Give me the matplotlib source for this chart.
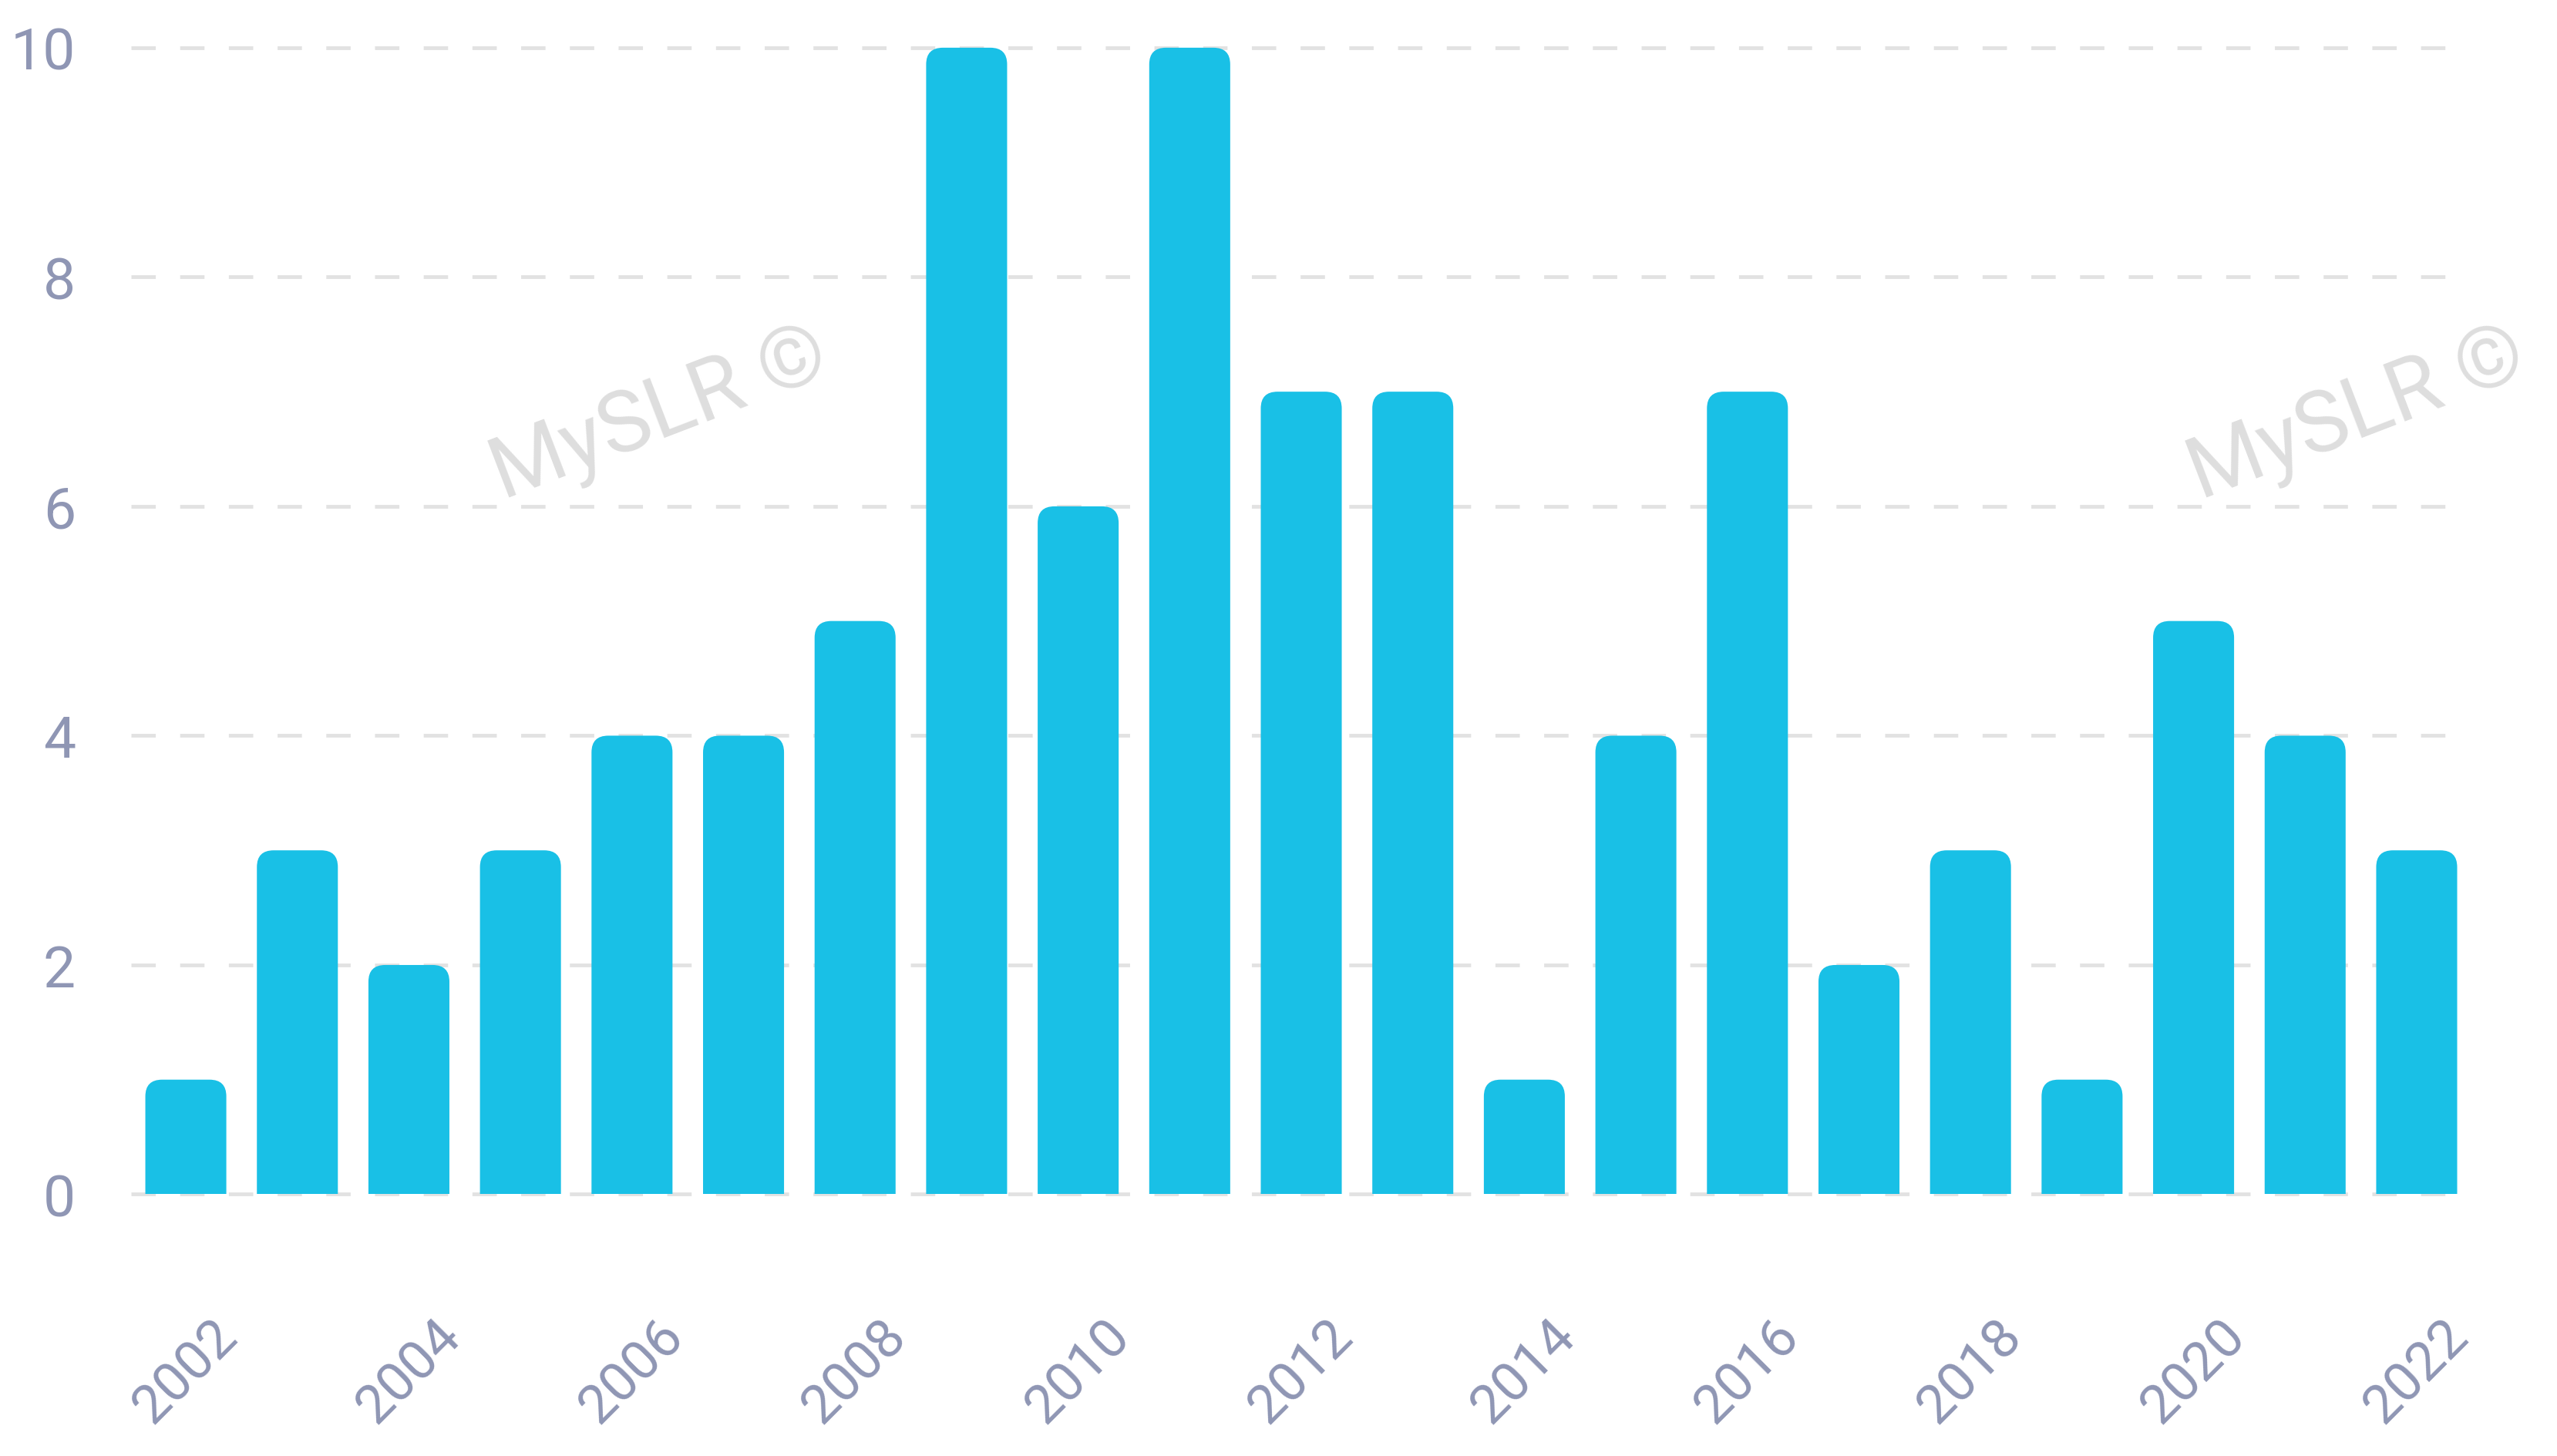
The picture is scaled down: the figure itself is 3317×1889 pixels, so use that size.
import numpy as np
import matplotlib
matplotlib.use('Agg')
import matplotlib.pyplot as plt
from matplotlib.patches import FancyBboxPatch, Rectangle

plt.close('all')

years = list(range(2002, 2023))
counts = [1, 3, 2, 3, 4, 4, 5, 10, 6, 10, 7, 7, 1, 4, 7, 2, 3, 1, 5, 4, 3]
yticks = [0, 2, 4, 6, 8, 10]

bar_color = '#19c0e6'
label_color = '#8f96b4'
grid_color = '#e2e2e2'

plt.rcParams['font.family'] = ['Roboto', 'DejaVu Sans']

fig = plt.figure(figsize=(33.17, 18.9), dpi=100, facecolor='white')
ax = fig.add_axes([0.0513, 0.1757, 0.9104, 0.7989])

x = np.arange(len(years))
bars = ax.bar(x, counts, width=0.726, color=bar_color, zorder=2)

# rounded tops: replace each bar by a rounded box clipped at y=0
r = 0.15
ma = 0.97
clip = Rectangle((-5, 0), 40, 20, transform=ax.transData, visible=False)
ax.add_patch(clip)
for b in bars:
    bx, w, h = b.get_x(), b.get_width(), b.get_height()
    b.set_visible(False)
    p = FancyBboxPatch((bx + r, -0.5), w - 2 * r, h + 0.5 - r * ma,
                       boxstyle=f'round,pad={r},rounding_size={r}',
                       mutation_aspect=ma, facecolor=bar_color,
                       edgecolor='none', zorder=2)
    ax.add_patch(p)
    p.set_clip_path(clip)

ax.set_xlim(-0.49, 20.38)
ax.set_ylim(-0.05, 10.1)

ax.set_yticks(yticks)
ax.set_yticklabels([str(v) for v in yticks])
ax.set_xticks(x[::2])
ax.set_xticklabels([str(y) for y in years[::2]], rotation=45, ha='center')

ax.tick_params(axis='y', length=0, pad=52, labelsize=54, labelcolor=label_color)
ax.tick_params(axis='x', length=0, pad=102, labelsize=51, labelcolor=label_color)

ax.grid(axis='y', color=grid_color, linewidth=3.5, linestyle=(0, (6.5, 6.5)), zorder=0)
ax.set_axisbelow(True)
for s in ax.spines.values():
    s.set_visible(False)

# watermarks
for wx in [0.258, 0.922]:
    fig.text(wx, 0.715, 'MySLR ©', fontsize=80, color='#dedede', rotation=21,
             ha='center', va='center', zorder=1)

fig.savefig('out.png', dpi=100, facecolor='white')
